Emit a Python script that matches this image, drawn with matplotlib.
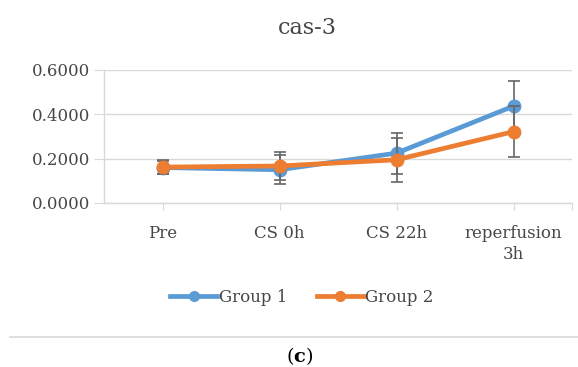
import numpy as np
import matplotlib.pyplot as plt
from matplotlib.lines import Line2D

plt.rcParams['font.family'] = ['DejaVu Serif']
plt.rcParams['mathtext.fontset'] = 'dejavuserif'

categories = ["Pre", "CS 0h", "CS 22h", "reperfusion\n3h"]
group1 = [0.160, 0.150, 0.225, 0.437]
group1_err = [0.030, 0.066, 0.093, 0.115]
group2 = [0.162, 0.167, 0.195, 0.322]
group2_err = [0.032, 0.065, 0.100, 0.115]
yticks = [0.0, 0.2, 0.4, 0.6]

blue = "#5B9BD5"
orange = "#ED7D31"
grid = "#D9D9D9"
txt = "#474747"

fig = plt.figure(figsize=(5.78, 3.67), dpi=100)
ax = fig.add_axes([104/578, 1 - 203/367, 468/578, 133/367])

x = np.arange(len(categories))
ax.errorbar(x, group1, yerr=group1_err, color=blue, lw=3.4, marker="o", ms=9,
            ecolor="#666666", elinewidth=1.2, capsize=4, capthick=1.2, zorder=3)
ax.errorbar(x, group2, yerr=group2_err, color=orange, lw=3.4, marker="o", ms=9,
            ecolor="#666666", elinewidth=1.2, capsize=4, capthick=1.2, zorder=4)

ax.set_xlim(-0.5, 3.5)
ax.set_ylim(0, 0.6)
ax.set_yticks(yticks)
ax.set_yticklabels([f"{v:.4f}" for v in yticks], color=txt, fontsize=12)
ax.set_xticks(list(x) + [3.5])
ax.set_xticklabels(categories + [""], color=txt, fontsize=12, linespacing=1.3)
ax.grid(axis="y", color=grid, lw=1)
ax.set_axisbelow(True)
for s in ["top", "right"]:
    ax.spines[s].set_visible(False)
for s in ["left", "bottom"]:
    ax.spines[s].set_color(grid)
    ax.spines[s].set_linewidth(1)
ax.tick_params(axis="y", length=7, color=grid, pad=3)
ax.tick_params(axis="x", length=5, color=grid, pad=11)

fig.text(307/578, 1 - 28/367, "cas-3", ha="center", va="center", fontsize=16, color=txt)

handles = [Line2D([], [], color=blue, lw=3.4, marker="o", ms=7),
           Line2D([], [], color=orange, lw=3.4, marker="o", ms=7)]
fig.legend(handles, ["Group 1", "Group 2"], loc="center", bbox_to_anchor=(302/578, 1 - 297/367),
           ncol=2, frameon=False, fontsize=12, labelcolor=txt, handlelength=2.8,
           handletextpad=0.1, columnspacing=1.8)

fig.add_artist(Line2D([10/578, 1], [1 - 337/367] * 2, color=grid, lw=1.2))
fig.text(300/578, 1 - 356/367, r"($\mathbf{c}$)", ha="center", va="center", fontsize=14, color="black")

fig.savefig("out.png", dpi=100)
